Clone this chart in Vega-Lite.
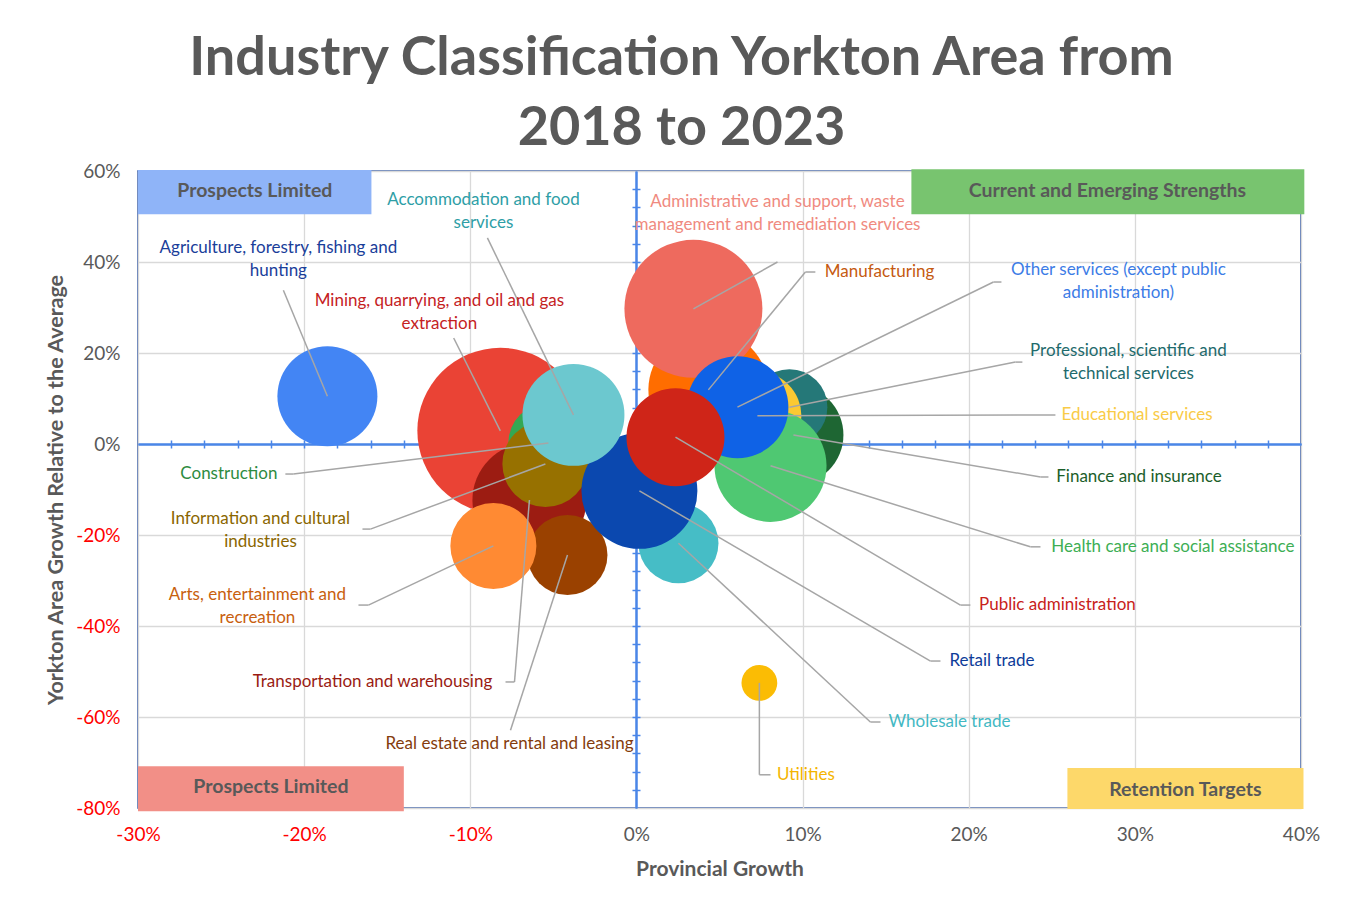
{
  "$schema": "https://vega.github.io/schema/vega-lite/v6.json",
  "width": 1163,
  "height": 637,
  "autosize": {"type": "none"},
  "padding": {"left": 138, "top": 171, "right": 54, "bottom": 89},
  "background": "white",
  "config": {"view": {"stroke": "#2E54A3", "strokeWidth": 1.5}, "font": "Lato"},
  "title": {
    "text": ["Industry Classification Yorkton Area from", "2018 to 2023"],
    "font": "Lato", "fontSize": 54, "fontWeight": "bold", "color": "#595959",
    "lineHeight": 70, "anchor": "middle", "dx": -38, "offset": 6
  },
  "datasets": {
    "industries": [
      {"industry": "Mining, quarrying, and oil and gas extraction", "label": "Mining, quarrying, and oil and gas\nextraction", "x": -8.19, "y": 2.9, "employment": 689, "lx": -11.86, "ly": 31.43, "ex": -11.0, "ey": 23.3},
      {"industry": "Construction", "label": "Construction", "x": -5.30, "y": 0.2, "employment": 160, "lx": -24.53, "ly": -6.6, "ex": -20.65, "ey": -6.6, "ex2": -21.13},
      {"industry": "Transportation and warehousing", "label": "Transportation and warehousing", "x": -6.44, "y": -12.3, "employment": 325, "lx": -15.89, "ly": -52.3, "ex": -7.34, "ey": -52.3, "ex2": -7.88},
      {"industry": "Information and cultural industries", "label": "Information and cultural\nindustries", "x": -5.48, "y": -4.4, "employment": 185, "lx": -22.63, "ly": -16.48, "ex": -16.01, "ey": -18.7, "ex2": -16.49},
      {"industry": "Real estate and rental and leasing", "label": "Real estate and rental and leasing", "x": -4.15, "y": -24.4, "employment": 160, "lx": -7.64, "ly": -65.9, "ex": -7.58, "ey": -62.9},
      {"industry": "Arts, entertainment and recreation", "label": "Arts, entertainment and\nrecreation", "x": -8.61, "y": -22.4, "employment": 185, "lx": -22.81, "ly": -33.19, "ex": -16.13, "ey": -35.4, "ex2": -16.73},
      {"industry": "Wholesale trade", "label": "Wholesale trade", "x": 2.53, "y": -21.8, "employment": 160, "lx": 18.84, "ly": -61.1, "ex": 14.08, "ey": -61.1, "ex2": 14.69},
      {"industry": "Retail trade", "label": "Retail trade", "x": 0.18, "y": -10.3, "employment": 336, "lx": 21.40, "ly": -47.7, "ex": 17.70, "ey": -47.7, "ex2": 18.30},
      {"industry": "Accommodation and food services", "label": "Accommodation and food\nservices", "x": -3.79, "y": 6.4, "employment": 260, "lx": -9.21, "ly": 53.63, "ex": -8.97, "ey": 45.3},
      {"industry": "Agriculture, forestry, fishing and hunting", "label": "Agriculture, forestry, fishing and\nhunting", "x": -18.6, "y": 10.5, "employment": 250, "lx": -21.55, "ly": 43.08, "ex": -21.25, "ey": 33.8},
      {"industry": "Manufacturing", "label": "Manufacturing", "x": 4.33, "y": 11.9, "employment": 360, "lx": 14.63, "ly": 37.8, "ex": 10.17, "ey": 37.8, "ex2": 10.77},
      {"industry": "Administrative and support, waste management and remediation services", "label": "Administrative and support, waste\nmanagement and remediation services", "x": 3.43, "y": 29.7, "employment": 476, "lx": 8.49, "ly": 53.19, "ex": 8.49, "ey": 40.0},
      {"industry": "Finance and insurance", "label": "Finance and insurance", "x": 9.45, "y": 2.0, "employment": 250, "lx": 30.25, "ly": -7.25, "ex": 24.32, "ey": -7.25, "ex2": 24.8},
      {"industry": "Professional, scientific and technical services", "label": "Professional, scientific and\ntechnical services", "x": 9.21, "y": 8.1, "employment": 144, "lx": 29.61, "ly": 20.44, "ex": 22.81, "ey": 18.0, "ex2": 23.23},
      {"industry": "Educational services", "label": "Educational services", "x": 7.28, "y": 6.2, "employment": 194, "lx": 30.13, "ly": 6.4, "ex": 25.22, "ey": 6.4},
      {"industry": "Health care and social assistance", "label": "Health care and social assistance", "x": 8.07, "y": -4.8, "employment": 314, "lx": 32.29, "ly": -22.6, "ex": 23.71, "ey": -22.6, "ex2": 24.32},
      {"industry": "Other services (except public administration)", "label": "Other services (except public\nadministration)", "x": 6.08, "y": 8.1, "employment": 260, "lx": 29.01, "ly": 38.24, "ex": 21.49, "ey": 35.6, "ex2": 21.97},
      {"industry": "Public administration", "label": "Public administration", "x": 2.35, "y": 1.5, "employment": 240, "lx": 25.34, "ly": -35.4, "ex": 19.5, "ey": -35.4, "ex2": 20.1},
      {"industry": "Utilities", "label": "Utilities", "x": 7.40, "y": -52.5, "employment": 32, "lx": 10.20, "ly": -72.7, "ex": 7.40, "ey": -72.7, "ex2": 8.07}
    ],
    "quadrants": [
      {"quadrant": "Top left", "label": "Prospects Limited", "x1": -30, "x2": -15.95, "y1": 50.5, "y2": 60.2, "tx": -22.97, "ty": 55.6},
      {"quadrant": "Top right", "label": "Current and Emerging Strengths", "x1": 16.55, "x2": 40.2, "y1": 50.5, "y2": 60.4, "tx": 28.35, "ty": 55.6},
      {"quadrant": "Bottom left", "label": "Prospects Limited", "x1": -30, "x2": -14.0, "y1": -80.7, "y2": -70.8, "tx": -22.0, "ty": -75.4},
      {"quadrant": "Bottom right", "label": "Retention Targets", "x1": 25.94, "x2": 40.15, "y1": -80.2, "y2": -71.2, "tx": 33.04, "ty": -76.0}
    ]
  },
  "layer": [
    {
      "data": {"name": "industries"},
      "mark": {"type": "circle", "opacity": 1, "strokeWidth": 0},
      "encoding": {
        "x": {"field": "x", "type": "quantitative", "scale": {"domain": [-30, 40], "nice": false, "zero": false},
          "axis": {"orient": "bottom", "values": [-30, -20, -10, 0, 10, 20, 30, 40], "labelExpr": "datum.value + '%'",
            "grid": true, "gridColor": "#D9D9D9", "gridWidth": 1.3, "domain": false, "ticks": false,
            "labelFont": "Lato", "labelFontSize": 19, "labelColor": {"condition": {"test": "datum.value < 0", "value": "#FF0000"}, "value": "#595959"},
            "labelPadding": 17, "labelFlush": false, "labelOverlap": false,
            "title": "Provincial Growth", "titleFont": "Lato", "titleFontSize": 21, "titleFontWeight": "bold", "titleColor": "#595959", "titlePadding": 14}},
        "y": {"field": "y", "type": "quantitative", "scale": {"domain": [-80, 60], "nice": false, "zero": false},
          "axis": {"orient": "left", "values": [-80, -60, -40, -20, 0, 20, 40, 60], "labelExpr": "datum.value + '%'",
            "grid": true, "gridColor": "#D9D9D9", "gridWidth": 1.3, "domain": false, "ticks": false,
            "labelFont": "Lato", "labelFontSize": 19, "labelColor": {"condition": {"test": "datum.value < 0", "value": "#FF0000"}, "value": "#595959"},
            "labelPadding": 18, "labelFlush": false, "labelOverlap": false,
            "title": "Yorkton Area Growth Relative to the Average", "titleFont": "Lato", "titleFontSize": 21.5, "titleFontWeight": "bold", "titleColor": "#595959", "titlePadding": 8}},
        "size": {"field": "employment", "type": "quantitative", "scale": {"type": "linear", "domain": [0, 1000], "range": [0, 40000]}, "legend": null},
        "color": {"field": "industry", "type": "nominal", "legend": null,
          "scale": {
            "domain": ["Mining, quarrying, and oil and gas extraction", "Construction", "Transportation and warehousing", "Information and cultural industries", "Real estate and rental and leasing", "Arts, entertainment and recreation", "Wholesale trade", "Retail trade", "Accommodation and food services", "Agriculture, forestry, fishing and hunting", "Manufacturing", "Administrative and support, waste management and remediation services", "Finance and insurance", "Professional, scientific and technical services", "Educational services", "Health care and social assistance", "Other services (except public administration)", "Public administration", "Utilities"],
            "range": ["#EA4335", "#34A853", "#9C1C12", "#977100", "#9A4100", "#FF8A33", "#46BDC6", "#0B48AF", "#6CC8CF", "#4385F4", "#FF6D00", "#EE6A5E", "#1E6633", "#257878", "#FBC932", "#4FC872", "#0F62E6", "#CF2518", "#FBBC04"]
          }}
      }
    },
    {
      "data": {"name": "industries"},
      "mark": {"type": "rule", "color": "#A6A6A6", "strokeWidth": 1.5},
      "encoding": {
        "x": {"field": "x", "type": "quantitative", "scale": {"domain": [-30, 40], "nice": false, "zero": false},
          "axis": {"orient": "bottom", "offset": -364, "values": [-28, -26, -24, -22, -20, -18, -16, -14, -12, -10, -8, -6, -4, -2, 0, 2, 4, 6, 8, 10, 12, 14, 16, 18, 20, 22, 24, 26, 28, 30, 32, 34, 36, 38],
            "labels": false, "grid": false, "domain": true, "domainColor": "#4A86E8", "domainWidth": 2, "ticks": true, "tickColor": "#4A86E8", "tickWidth": 1.5, "tickSize": 4, "title": null}},
        "y": {"field": "y", "type": "quantitative", "scale": {"domain": [-80, 60], "nice": false, "zero": false},
          "axis": {"orient": "left", "offset": -498, "values": [-76, -72, -68, -64, -60, -56, -52, -48, -44, -40, -36, -32, -28, -24, -20, -16, -12, -8, -4, 0, 4, 8, 12, 16, 20, 24, 28, 32, 36, 40, 44, 48, 52, 56],
            "labels": false, "grid": false, "domain": true, "domainColor": "#4A86E8", "domainWidth": 2, "ticks": true, "tickColor": "#4A86E8", "tickWidth": 1.5, "tickSize": 4, "title": null}},
        "x2": {"field": "ex"},
        "y2": {"field": "ey"}
      }
    },
    {
      "data": {"name": "industries"},
      "transform": [{"filter": "datum.ex2 != null"}],
      "mark": {"type": "rule", "color": "#A6A6A6", "strokeWidth": 1.5},
      "encoding": {
        "x": {"field": "ex", "type": "quantitative", "scale": {"domain": [-30, 40], "nice": false, "zero": false},
          "axis": {"orient": "top", "offset": -273, "values": [-28, -26, -24, -22, -20, -18, -16, -14, -12, -10, -8, -6, -4, -2, 0, 2, 4, 6, 8, 10, 12, 14, 16, 18, 20, 22, 24, 26, 28, 30, 32, 34, 36, 38],
            "labels": false, "grid": false, "domain": true, "domainColor": "#4A86E8", "domainWidth": 2, "ticks": true, "tickColor": "#4A86E8", "tickWidth": 1.5, "tickSize": 4, "title": null}},
        "x2": {"field": "ex2"},
        "y": {"field": "ey", "type": "quantitative", "scale": {"domain": [-80, 60], "nice": false, "zero": false},
          "axis": {"orient": "right", "offset": -665, "values": [-76, -72, -68, -64, -60, -56, -52, -48, -44, -40, -36, -32, -28, -24, -20, -16, -12, -8, -4, 0, 4, 8, 12, 16, 20, 24, 28, 32, 36, 40, 44, 48, 52, 56],
            "labels": false, "grid": false, "domain": true, "domainColor": "#4A86E8", "domainWidth": 2, "ticks": true, "tickColor": "#4A86E8", "tickWidth": 1.5, "tickSize": 4, "title": null}}
      }
    },
    {
      "data": {"name": "industries"},
      "mark": {"type": "text", "font": "Lato", "fontSize": 17, "lineBreak": "\n", "lineHeight": 23, "align": "center", "baseline": "middle"},
      "encoding": {
        "x": {"field": "lx", "type": "quantitative", "scale": {"domain": [-30, 40], "nice": false, "zero": false}, "axis": null},
        "y": {"field": "ly", "type": "quantitative", "scale": {"domain": [-80, 60], "nice": false, "zero": false}, "axis": null},
        "text": {"field": "label"},
        "fill": {"field": "industry", "type": "nominal", "legend": null,
          "scale": {
            "domain": ["Mining, quarrying, and oil and gas extraction", "Construction", "Transportation and warehousing", "Information and cultural industries", "Real estate and rental and leasing", "Arts, entertainment and recreation", "Wholesale trade", "Retail trade", "Accommodation and food services", "Agriculture, forestry, fishing and hunting", "Manufacturing", "Administrative and support, waste management and remediation services", "Finance and insurance", "Professional, scientific and technical services", "Educational services", "Health care and social assistance", "Other services (except public administration)", "Public administration", "Utilities"],
            "range": ["#C5221F", "#2E8B3F", "#9A1B12", "#8A6600", "#843C0C", "#C8600E", "#43B8C3", "#0D3C99", "#2E9EA6", "#1A3E9A", "#C55A11", "#F08A80", "#1B5E2A", "#1E6A6C", "#F9CB47", "#3DAE54", "#3C7CE6", "#C8221A", "#F4B400"]
          }}
      }
    },
    {
      "data": {"name": "quadrants"},
      "mark": {"type": "rect"},
      "encoding": {
        "x": {"field": "x1", "type": "quantitative", "scale": {"domain": [-30, 40], "nice": false, "zero": false}, "axis": null},
        "x2": {"field": "x2"},
        "y": {"field": "y1", "type": "quantitative", "scale": {"domain": [-80, 60], "nice": false, "zero": false}, "axis": null},
        "y2": {"field": "y2"},
        "color": {"field": "quadrant", "type": "nominal", "legend": null,
          "scale": {"domain": ["Top left", "Top right", "Bottom left", "Bottom right"], "range": ["#8FB4F8", "#78C46F", "#F28F87", "#FDD86A"]}}
      }
    },
    {
      "data": {"name": "quadrants"},
      "mark": {"type": "text", "font": "Lato", "fontSize": 19.5, "fontWeight": "bold", "color": "#595959", "align": "center", "baseline": "middle"},
      "encoding": {
        "x": {"field": "tx", "type": "quantitative", "scale": {"domain": [-30, 40], "nice": false, "zero": false}, "axis": null},
        "y": {"field": "ty", "type": "quantitative", "scale": {"domain": [-80, 60], "nice": false, "zero": false}, "axis": null},
        "text": {"field": "label"}
      }
    }
  ],
  "resolve": {"scale": {"color": "independent", "fill": "independent"}, "axis": {"x": "independent", "y": "independent"}}
}
